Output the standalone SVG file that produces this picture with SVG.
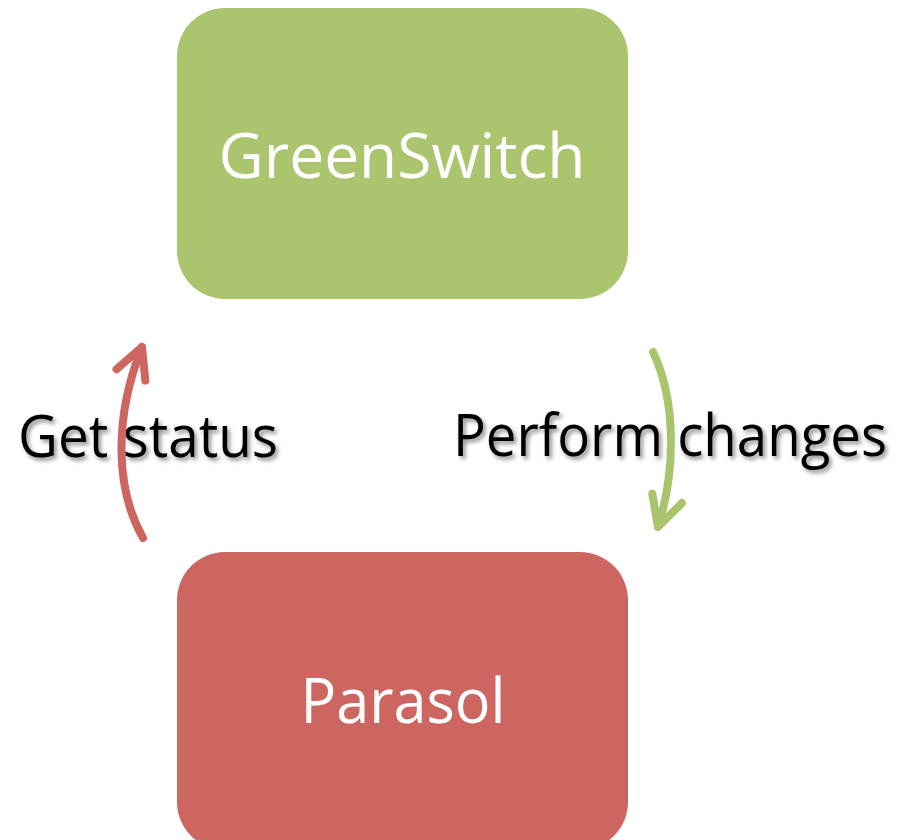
<svg xmlns="http://www.w3.org/2000/svg" width="912" height="840" viewBox="0 0 912 840">
  <style>
    .node-text { font-family: "Open Sans", "Liberation Sans", sans-serif; font-size: 63px; fill: #ffffff; text-anchor: middle; }
    .label { font-family: "Open Sans", "Liberation Sans", sans-serif; font-size: 58px; fill: #000000; filter: url(#textShadow); }
    .conn { fill: none; stroke-width: 8; stroke-linecap: round; stroke-linejoin: round; }
  </style>
  <defs>
    <filter id="textShadow" x="-10%" y="-30%" width="120%" height="160%">
      <feDropShadow dx="2.5" dy="3" stdDeviation="2" flood-color="#000000" flood-opacity="0.45"/>
    </filter>
    <marker id="headRed" markerUnits="userSpaceOnUse" viewBox="-36 -22 42 44" refX="0" refY="0" markerWidth="42" markerHeight="44" orient="auto" overflow="visible">
      <path d="M-30,-15.5 L0,0 L-30,15.5" fill="none" stroke="#cd6660" stroke-width="8" stroke-linecap="round" stroke-linejoin="round"/>
    </marker>
    <marker id="headGreen" markerUnits="userSpaceOnUse" viewBox="-36 -22 42 44" refX="0" refY="0" markerWidth="42" markerHeight="44" orient="auto" overflow="visible">
      <path d="M-30,-15.5 L0,0 L-30,15.5" fill="none" stroke="#a9c46c" stroke-width="8" stroke-linecap="round" stroke-linejoin="round"/>
    </marker>
  </defs>

  <rect width="912" height="840" fill="#ffffff"/>

  <g id="greenswitch">
    <rect x="177" y="8" width="451" height="291" rx="48" ry="48" fill="#aac56e"/>
    <text class="node-text" x="402" y="178" textLength="367" lengthAdjust="spacingAndGlyphs">GreenSwitch</text>
  </g>

  <g id="parasol">
    <rect x="177" y="552" width="451" height="298" rx="48" ry="48" fill="#cd6660"/>
    <text class="node-text" x="403" y="723" textLength="205" lengthAdjust="spacingAndGlyphs">Parasol</text>
  </g>

  <g id="labels">
    <text class="label" x="18" y="457" textLength="260" lengthAdjust="spacingAndGlyphs">Get status</text>
    <text class="label" x="453" y="456" textLength="434" lengthAdjust="spacingAndGlyphs">Perform changes</text>
  </g>

  <g id="connectors">
    <path class="conn" stroke="#cd6660" d="M143,538 C116,490 113,420 142,347" marker-end="url(#headRed)"/>
    <path class="conn" stroke="#a9c46c" d="M653,352 C676,400 676,470 658,527" marker-end="url(#headGreen)"/>
  </g>
</svg>
